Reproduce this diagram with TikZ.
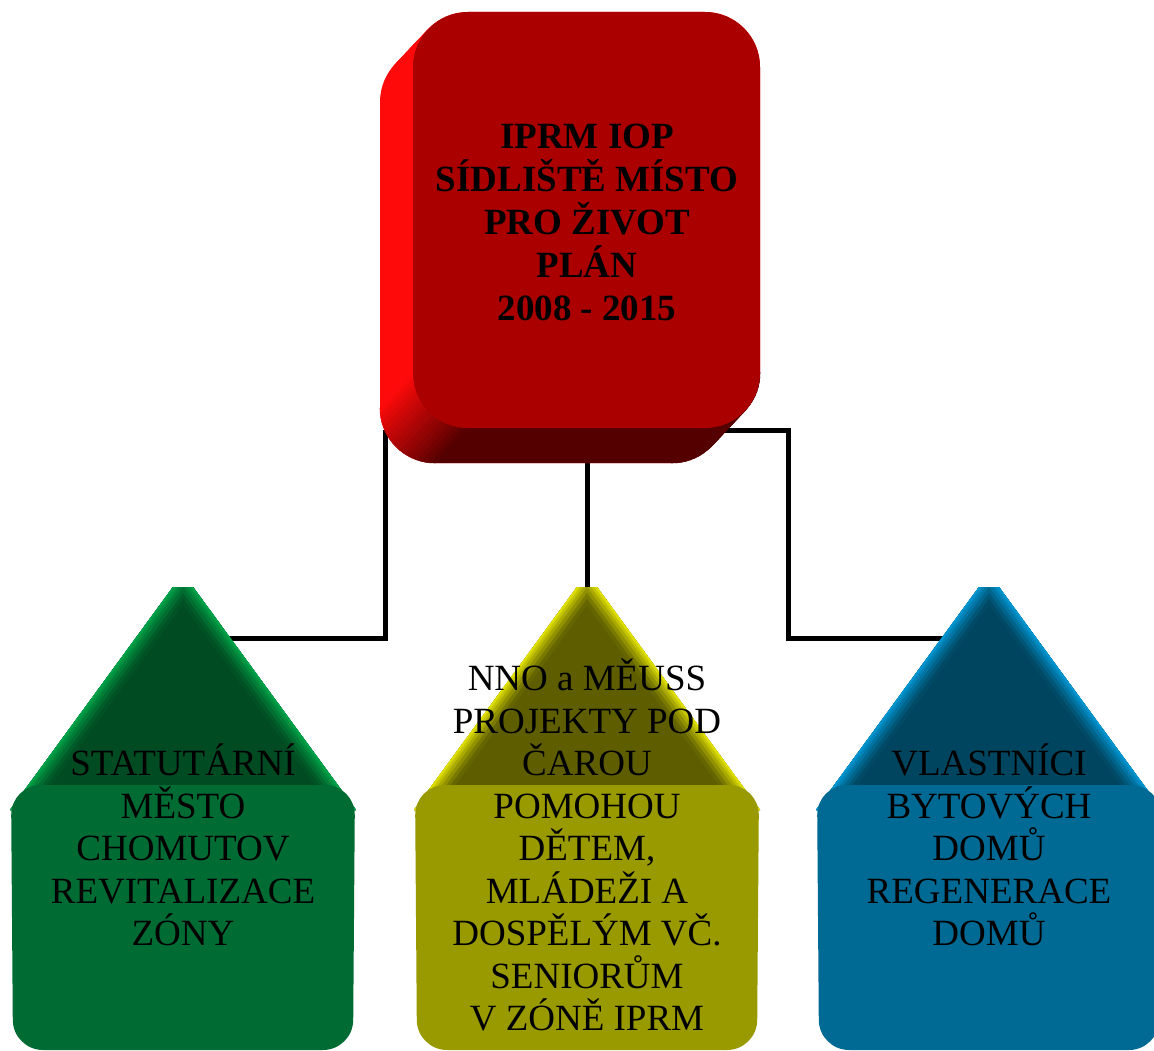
\documentclass[tikz,border=0pt]{standalone}
\usepackage{fontspec}
\setmainfont{Liberation Serif}
\usetikzlibrary{calc}
\definecolor{frontRed}{HTML}{AA0000}
\definecolor{sideRed}{HTML}{FF0A0A}
\definecolor{darkRed}{HTML}{550000}
\definecolor{gRoof}{HTML}{004B22}
\definecolor{gEdge}{HTML}{00A64A}
\definecolor{gFront}{HTML}{006B33}
\definecolor{oRoof}{HTML}{5E5E00}
\definecolor{oEdge}{HTML}{E6E600}
\definecolor{oFront}{HTML}{999900}
\definecolor{bRoof}{HTML}{00455F}
\definecolor{bEdge}{HTML}{0099D6}
\definecolor{bFront}{HTML}{006A94}
\pgfdeclarelayer{bg}
\pgfsetlayers{bg,main}
\tikzset{
  toptext/.style={font=\fontsize{37}{43}\selectfont\bfseries, align=center, text=black},
  housetext/.style={font=\fontsize{37}{42.5}\selectfont, align=center, text=black},
  conn/.style={draw=black, line width=5pt},
}
\newcommand\myhouse[4]{%
  \begin{scope}
    \clip (#1-10,587) -- (#1+10,587) -- (#1+173,810) -- (#1-173,810) -- cycle;
    \fill[#2] (#1-200,580) rectangle (#1+200,820);
    \foreach \w/\p in {38/6,30/20,23/38,16/56,10/74,5/90,2/100} {
      \draw[line width=\w pt, #3!\p!#2] (#1+14,554) -- (#1-196,841);
      \draw[line width=\w pt, #3!\p!#2] (#1-14,554) -- (#1+196,841);
    }
  \end{scope}
  \fill[#4, rounded corners=30pt] (#1-172,785) -- (#1+172,785) -- (#1+170,1050) -- (#1-170,1050) -- cycle;
}
\begin{document}
\begin{tikzpicture}[x=1pt,y=-1pt]
\path[use as bounding box] (0,0) rectangle (1154,1051);
\clip (0,0) rectangle (1154,1051);

% ---- top box: extrusion ----
\foreach \t in {0,...,33} {
  \fill[sideRed, rounded corners=55pt] (413-\t,12+\t*35/33) rectangle ++(347,416);
}
\foreach \a in {0,5,...,85} {
  \pgfmathsetmacro\b{\a+5}
  \fill[darkRed, draw=darkRed, line width=0.6pt] ($(705,373)+(\a:55)$) -- ($(705,373)+(\b:55)$) -- ($(672,408)+(\b:55)$) -- ($(672,408)+(\a:55)$) -- cycle;
}
\fill[darkRed] (468,428) -- (705,428) -- (672,463) -- (435,463) -- cycle;
\foreach \a in {90,95,...,175} {
  \pgfmathsetmacro\b{\a+5}
  \pgfmathtruncatemacro\p{(\a+2.5-90)/90*100}
  \fill[sideRed!\p!darkRed, draw=sideRed!\p!darkRed, line width=0.6pt] ($(468,373)+(\a:55)$) -- ($(468,373)+(\b:55)$) -- ($(435,408)+(\b:55)$) -- ($(435,408)+(\a:55)$) -- cycle;
}
\fill[frontRed, rounded corners=55pt] (413,12) rectangle (760,428);
\node[toptext] (top) at (587,222) {IPRM IOP\\SÍDLIŠTĚ MÍSTO\\PRO ŽIVOT\\PLÁN\\2008 - 2015};

% ---- houses ----
\myhouse{183}{gRoof}{gEdge}{gFront}
\myhouse{587}{oRoof}{oEdge}{oFront}
\myhouse{989}{bRoof}{bEdge}{bFront}

\node[housetext] (g) at (183,845) {STATUTÁRNÍ\\MĚSTO\\CHOMUTOV\\REVITALIZACE\\ZÓNY};
\node[housetext] (o) at (587,845) {NNO a MĚUSS\\PROJEKTY POD\\ČAROU\\POMOHOU\\DĚTEM,\\MLÁDEŽI A\\DOSPĚLÝM VČ.\\SENIORŮM\\V ZÓNĚ IPRM};
\node[housetext] (b) at (989,845) {VLASTNÍCI\\BYTOVÝCH\\DOMŮ\\REGENERACE\\DOMŮ};

% ---- connectors ----
\coordinate (topL) at (385,430);
\coordinate (topM) at (587,440);
\coordinate (topR) at (600,430);
\coordinate (gC) at (183,638);
\coordinate (oC) at (587,600);
\coordinate (bC) at (989,638);
\begin{pgfonlayer}{bg}
  \draw[conn] (topL) |- (gC);
  \draw[conn] (topM) -- (oC);
  \draw[conn] (topR) -- (788,430) |- (bC);
\end{pgfonlayer}
\end{tikzpicture}
\end{document}
